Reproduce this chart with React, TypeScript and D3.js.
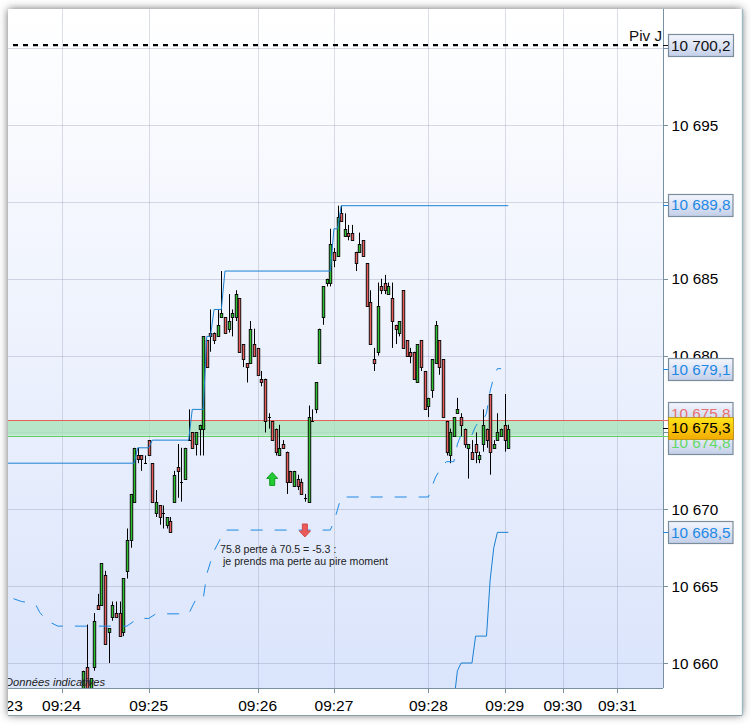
import React from "react";
import * as d3 from "d3";

// Prices are stored as offset from 10600 (e.g. 75.25 = 10 675,25)
const priceBase = 10600;
const opens = [58,59.75,58,59.75,63.75,63.75,65.75,62,63,63.25,63.25,62,66,68,70.5,73.5,73.5,73,74.5,73,69.75,70.25,69.75,69,69.25,70.5,72.75,71.75,72,74.5,75,74.25,75.25,75.25,81,81.5,81.5,81.25,82.5,82.5,81.75,82.5,82.5,83.75,80.75,79.5,79.5,80.75,80.5,78.5,78.5,76,75.75,75.25,73.5,74.25,73.75,72.5,71.5,72,71.75,70.75,70.5,75.75,76.5,79.5,82.5,84.75,84.75,86.75,86.5,89.25,87.75,88,88,86.75,86.75,87.5,86,83.5,79.75,80.25,84.5,84.75,84,83.75,82,81.5,84.25,81,80.25,80.25,78.25,81,79,76.75,77.75,79.5,81,79.75,75.75,73.5,74.75,76.25,76,75.25,74,73.75,74.25,73.25,74.25,75.25,77.5,74,74.5,74.75,75.5,74];
const closes = [59.5,58,59,62.75,63.5,66.5,61.25,62.25,63.75,63,61.75,65.5,68,71,74,73.25,73.25,73,73.5,70.5,70.5,69.5,69.75,69.5,68.5,72.25,72.5,71.75,74,74.5,74,75,75.5,81.25,79.25,81.25,81,82,82.75,81.5,82.25,82.75,84,80.25,79.75,79.25,81.75,80,78.75,78.25,75.75,76,74.5,73.75,74,74,71.75,71.75,72.5,71.5,71,70.75,76,75.75,78.25,81.75,84.5,85,87.25,86.25,89,88.75,88.25,87.75,87.5,86,87.25,86.5,83.25,80.75,79.5,83.25,84.25,84.25,84.5,82.25,81.75,82.25,80.5,80,80,78.5,80.75,79.25,76.5,77.25,79.75,82,79.25,76,73.75,75,76,76.5,75.5,74.25,74.25,73.25,73.75,73.5,75.5,74.5,73.75,74.25,75,75.25,74.5,75.25];
const highs = [59.5,62.5,59,63.25,64.5,66.5,66,62.25,64,64,64,65.5,68.75,71,74,74,73.5,73.5,74.5,73,71.25,70.25,70.25,69.5,69.5,72.5,74.25,74,74,76.5,75,75,75.5,81.25,81,83,81.5,83,85.5,82.5,84,83,84.25,83.75,80.75,79.5,82.25,81.75,80.5,79,78.5,76.25,75.75,75.25,75.5,74.5,73.75,72.5,72.5,72.25,72,71,76.75,76.5,78.25,81.75,84.5,85,88.25,87,89.75,89.75,89.25,88.5,88.5,86.75,88,87.5,86,84.25,80.5,84.75,85,85.25,84.75,84.75,82,82.25,84.25,81,80.5,80.25,80.75,81,79,77.25,79.75,82.25,81,79.75,75.75,75.25,74.75,77.25,76.25,75.25,74.25,74.5,75,73.75,76.5,75.25,77.5,74.5,76.25,75.25,77.5,75.5];
const lows = [57.5,57.75,57.75,59.5,63.5,63.75,61.25,60,62.75,63,61.75,61.75,65.5,67.5,70.5,73,72.5,73,73.5,70.5,69.5,69,68.75,68.75,68.5,70.5,70.75,70.5,72,74.5,74,73.5,73.5,73.5,79.25,80.25,80.75,81.25,82.5,81.5,81.5,81.25,82.25,80.25,79.25,78.25,79.5,80,78.75,78,75,75.25,74.5,73.5,73.5,74,71,71.75,71.5,71.25,71,70.5,70.5,75.75,76.25,79.5,82,84.5,84.5,85.75,86.5,88.75,87.75,87.5,87.5,85.5,86.75,86.5,83.25,80.75,79,80,84,84,84,80.5,80.75,81.25,80.5,80,79.5,78.5,78.25,79,76.5,76,77.25,79.5,78.75,76,73.5,73,74.75,76.25,74.75,74,72,73.25,73,73,73.75,74,72.25,74,74.5,74.75,73.75,74];

const upperIdx = [-21,14,15,18,19,29,30,33,34,35,36,38,39,68,69,70,71,117];
const upperVal = [73,73,74,74,74.5,74.5,76.5,76.5,81.25,81.25,83,83,85.5,85.5,88.25,88.25,89.75,89.75];
const midIdx = [-20,-17,-14,-13,-12,-10,-7,12,15,18,20,29,31,33,34,35,36,38,39,68,69,70,71,95,96,97,99,100,102,103,104,107,108,109,110,111,112,113,114,115];
const midVal = [64.25,64,63.9,63.75,63.3,62.75,62.4,62.4,62.9,62.9,63.2,63.2,64.15,64.15,65.8,66.55,67.3,68.2,68.65,68.65,69.2,70,70.8,70.8,71.5,72.1,72.9,73.1,73.1,74.25,74.85,74.85,75.4,75.75,75.75,76.25,77.7,78.6,79.15,79.15];
const lowerIdx = [102,103,104,107,108,111,112,113,114,117];
const lowerVal = [57.5,59.5,60,60,61.75,61.75,65.4,67.5,68.5,68.5];

const yTicks = [10660,10665,10670,10675,10680,10685,10690,10695,10700];
const yTickLabels = ["10 660","10 665","10 670","","10 680","10 685","","10 695",""];
const timeIdx = [-22,-6,18,48,69,95,116,132,147];
const timeLabels = ["09:23","09:24","09:25","09:26","09:27","09:28","09:29","09:30","09:31"];

const pivotValue = 10700.2;
const zoneTop = 10675.8;
const zoneBottom = 10674.8;

const boxValues = [10700.2,10689.8,10679.1,10675.8,10674.8,10668.5];
const boxTexts = ["10 700,2","10 689,8","10 679,1","10 675,8","10 674,8","10 668,5"];
const boxColors = ["#111111","#1e88e5","#1e88e5","#e87070","#66d866","#1e88e5"];
const boxNudges = [0,0,0,-7,7,0];
const lastValue = 10675.3;
const lastText = "10 675,3";

const noteLines = ["75.8 perte à 70.5 = -5.3 :","je prends ma perte au pire moment"];

const FONT = "'Liberation Sans', Arial, sans-serif";
const L = 8, R = 663, T = 9, B = 688, PR = 742, PB = 715;

export default function App() {
  const y = d3.scaleLinear().domain([10670, 10695]).range([509.3, 125]);
  const x = d3.scaleLinear().domain([0, 117]).range([83.3, 508.3]);
  const py = (v: number) => y(priceBase + v);
  const crisp = (v: number) => Math.round(v) + 0.5;
  const lineGen = d3.line<[number, number]>().x(d => x(d[0])).y(d => py(d[1]));
  const path = (a: number[], b: number[]) => lineGen(a.map((v, i) => [v, b[i]] as [number, number])) as string;
  const upX = x(52), upY = y(10672.4);
  const dnX = x(61), dnY = y(10668.2);

  return (
    <svg width={751} height={725} style={{ position: "absolute", left: 0, top: 0, display: "block" }} fontFamily={FONT}>
      <defs>
        <linearGradient id="bg" x1="0" y1="0" x2="0" y2="1">
          <stop offset="0" stopColor="#ffffff" />
          <stop offset="1" stopColor="#dae4fb" />
        </linearGradient>
        <linearGradient id="box" x1="0" y1="0" x2="0" y2="1">
          <stop offset="0" stopColor="#f4f6fd" />
          <stop offset="1" stopColor="#c3cfe9" />
        </linearGradient>
        <linearGradient id="gold" x1="0" y1="0" x2="0" y2="1">
          <stop offset="0" stopColor="#ffe41a" />
          <stop offset="1" stopColor="#f2ab00" />
        </linearGradient>
        <filter id="sh" x="-5%" y="-5%" width="110%" height="110%">
          <feDropShadow dx="0" dy="0" stdDeviation="4" floodColor="#444" floodOpacity="0.8" />
        </filter>
        <clipPath id="plot"><rect x={L} y={T} width={R - L} height={B - T} /></clipPath>
        <clipPath id="panel"><rect x={L} y={T} width={PR - L} height={PB - T} /></clipPath>
      </defs>

      <rect x={0} y={0} width={751} height={725} fill="#ffffff" />
      <rect x={L} y={T} width={PR - L} height={PB - T} fill="#ffffff" filter="url(#sh)" />
      <rect x={L} y={T} width={R - L} height={B - T} fill="url(#bg)" />

      {yTicks.map(t => (
        <line key={t} x1={L} x2={R} y1={crisp(y(t))} y2={crisp(y(t))} stroke="#8088a8" strokeOpacity={0.3} />
      ))}
      {timeIdx.filter(i => x(i) > L).map(i => (
        <line key={i} x1={crisp(x(i))} x2={crisp(x(i))} y1={T} y2={B} stroke="#8088a8" strokeOpacity={0.28} />
      ))}

      <g clipPath="url(#plot)">
        <rect x={L} y={y(zoneTop)} width={R - L} height={y(zoneBottom) - y(zoneTop)} fill="#a6e3b4" fillOpacity={0.75} />
        <line x1={L} x2={R} y1={crisp(y(zoneTop))} y2={crisp(y(zoneTop))} stroke="#e8605c" />
        <line x1={L} x2={R} y1={crisp(y(zoneBottom))} y2={crisp(y(zoneBottom))} stroke="#5fd060" />

        {opens.map((o, i) => {
          const c = closes[i];
          const cx = crisp(x(i));
          const top = crisp(py(Math.max(o, c)));
          const bot = crisp(py(Math.min(o, c)));
          return (
            <g key={i}>
              <line x1={cx} x2={cx} y1={py(highs[i])} y2={py(lows[i])} stroke="#000" />
              {o === c ? (
                <line x1={cx - 1.5} x2={cx + 1.5} y1={top} y2={top} stroke="#000" />
              ) : (
                <rect x={cx - 1.25} y={top} width={2.5} height={bot - top} fill={c > o ? "#2fc02f" : "#e85c5c"} stroke="#000" strokeWidth={0.9} />
              )}
            </g>
          );
        })}

        <path d={path(upperIdx, upperVal)} fill="none" stroke="#1a80d2" strokeWidth={1} />
        <path d={path(midIdx, midVal)} fill="none" stroke="#1e8ae6" strokeWidth={1} strokeDasharray="12 12" strokeDashoffset={-3} />
        <path d={path(lowerIdx, lowerVal)} fill="none" stroke="#1a80d2" strokeWidth={1} />

        <line x1={13} x2={R} y1={y(pivotValue)} y2={y(pivotValue)} stroke="#000" strokeWidth={2.2} strokeDasharray="5 5" />
        <text x={R - 1} y={41} textAnchor="end" fontSize={15.2} fill="#111">Piv J</text>

        <path d={`M${upX},${upY} l5.5,6 h-3 v7 h-5 v-7 h-3 z`} fill="#22cc33" stroke="#119a22" />
        <path d={`M${dnX},${dnY} l-5.5,-6 h3 v-7 h5 v7 h3 z`} fill="#ea5a5a" stroke="#d04a4a" />

        <text fontSize={10.6} fill="#222">
          <tspan x={220} y={553}>{noteLines[0]}</tspan>
          <tspan x={223} y={564.5}>{noteLines[1]}</tspan>
        </text>
        <text x={5} y={686} fontSize={11.2} fontStyle="italic" fill="#222">Données indicatives</text>
      </g>

      {/* frame */}
      <line x1={crisp(R)} x2={crisp(R)} y1={T} y2={B} stroke="#78909f" />
      <line x1={L} x2={R} y1={crisp(B)} y2={crisp(B)} stroke="#78909f" />
      <line x1={L} x2={PR} y1={crisp(PB)} y2={crisp(PB)} stroke="#8a9fa8" />
      <line x1={crisp(PR)} x2={crisp(PR)} y1={T} y2={PB} stroke="#9ab8c4" strokeWidth={1.3} />

      {/* y axis */}
      {yTicks.map((t, i) => (
        <g key={t}>
          <line x1={R} x2={668} y1={crisp(y(t))} y2={crisp(y(t))} stroke="#78909f" />
          <text x={671.5} y={y(t) + 5.5} fontSize={15.3} fill="#000">{yTickLabels[i]}</text>
        </g>
      ))}
      {boxValues.map((v, i) => {
        const cy = y(v) + boxNudges[i];
        return (
          <g key={v}>
            <line x1={R} x2={668} y1={crisp(y(v))} y2={crisp(y(v))} stroke={boxColors[i]} />
            <rect x={668.5} y={Math.round(cy - 11) + 0.5} width={i === 0 ? 65 : 64.5} height={22} fill="url(#box)" stroke="#7a8d9c" strokeWidth={1.2} />
            <text x={671} y={cy + 5.5} fontSize={15.3} fill={boxColors[i]}>{boxTexts[i]}</text>
          </g>
        );
      })}
      <line x1={R} x2={668} y1={crisp(y(lastValue))} y2={crisp(y(lastValue))} stroke="#000" />
      <rect x={668.5} y={Math.round(y(lastValue) - 11) + 0.5} width={65} height={22} fill="url(#gold)" stroke="#b98a10" strokeWidth={0.8} />
      <text x={671} y={y(lastValue) + 5.5} fontSize={15.3} fill="#000">{lastText}</text>

      {/* x axis */}
      <g clipPath="url(#panel)">
        {timeIdx.map((i, k) => (
          <g key={i}>
            {x(i) > L && <line x1={crisp(x(i))} x2={crisp(x(i))} y1={B} y2={B + 5} stroke="#78909f" />}
            <text x={x(i)} y={710.5} textAnchor="middle" fontSize={15.5} fill="#000">{timeLabels[k]}</text>
          </g>
        ))}
      </g>
    </svg>
  );
}
